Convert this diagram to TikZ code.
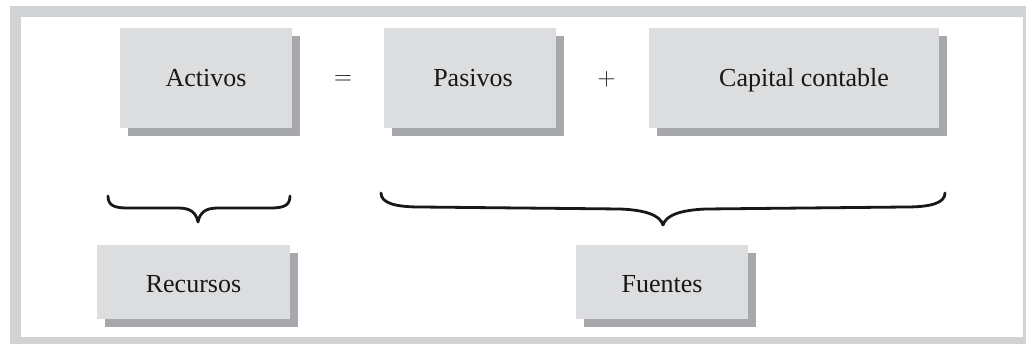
\documentclass[tikz,border=0pt]{standalone}
\usepackage{fontspec}
\setmainfont{Liberation Serif}
\usetikzlibrary{shadows}
\definecolor{boxgray}{HTML}{DCDDDF}
\definecolor{shadowgray}{HTML}{A7A8AC}
\definecolor{framegray}{HTML}{D1D2D4}
\definecolor{inkblack}{HTML}{1A1718}
\tikzset{
  termbox/.style={rectangle, fill=boxgray, inner sep=0pt, text=inkblack,
    font=\fontsize{26}{31}\selectfont,
    drop shadow={shadow xshift=8pt, shadow yshift=-8pt, opacity=1, fill=shadowgray}},
  topbox/.style={termbox, minimum height=100pt, text height=18pt, text depth=0pt},
  lowbox/.style={termbox, minimum height=74pt, text height=22pt, text depth=0pt},
  opsym/.style={inner sep=0pt, text=inkblack, font=\fontsize{30}{36}\selectfont},
  bracestroke/.style={draw=inkblack, line width=2.8pt, line cap=round, line join=round}
}
\begin{document}
\begin{tikzpicture}[x=1pt, y=-1pt]
\useasboundingbox (0,0) rectangle (1026,344);
% frame
\fill[framegray] (10,6) rectangle (1026,344);
\fill[white] (21,17) rectangle (1023,337);
% top row
\node[topbox, minimum width=172pt] (activos) at (206,78) {Activos};
\node[opsym] (eq) at (343,80) {$=$};
\node[topbox, minimum width=172pt] (pasivos) at (470,78) {\hspace{6pt}Pasivos};
\node[opsym] (plus) at (606.5,79) {$+$};
\node[topbox, minimum width=290pt] (capital) at (794,78) {\hspace{20pt}Capital contable};
% bottom row
\node[lowbox, minimum width=193pt] (recursos) at (193.5,282) {Recursos};
\node[lowbox, minimum width=172pt] (fuentes) at (662,282) {Fuentes};
% braces
\draw[bracestroke] (108,196) .. controls (108,206) and (115,208) .. (128,208)
  -- (178,208) .. controls (190,208) and (196,212) .. (198,222)
  .. controls (200,212) and (206,208) .. (218,208)
  -- (270,208) .. controls (283,208) and (290,206) .. (290,196);
\draw[bracestroke] (381,193) .. controls (381,203) and (395,207) .. (420,207)
  -- (620,209) .. controls (645,210) and (660,215) .. (663,225)
  .. controls (666,215) and (681,210) .. (706,209)
  -- (906,207) .. controls (931,207) and (945,203) .. (945,193);
\end{tikzpicture}
\end{document}
